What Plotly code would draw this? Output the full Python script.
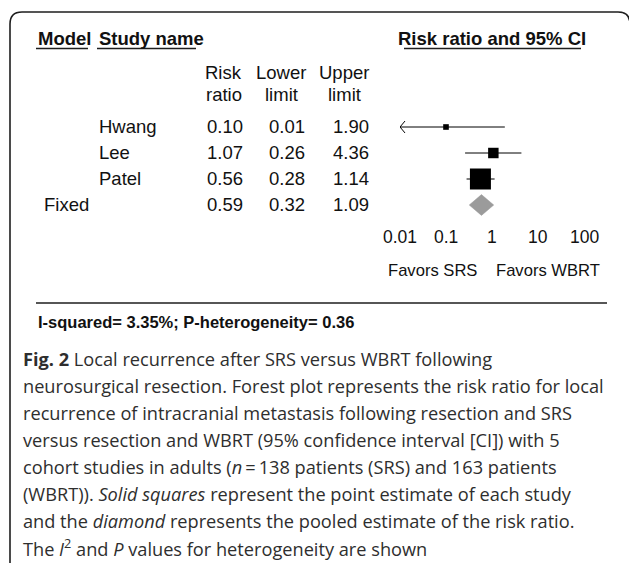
import numpy as np
import plotly.graph_objects as go

W, H = 629, 563

# ---------------- data ----------------
studies = ["Hwang", "Lee", "Patel"]
risk_ratio = [0.10, 1.07, 0.56]
lower_limit = [0.01, 0.26, 0.28]
upper_limit = [1.90, 4.36, 1.14]

pooled_label = "Fixed"
pooled_rr = 0.59
pooled_lower = 0.32
pooled_upper = 1.09

tick_values = [0.01, 0.1, 1, 10, 100]
tick_labels = ["0.01", "0.1", "1", "10", "100"]
favors_labels = ["Favors SRS", "Favors WBRT"]

i_squared = "3.35%"
p_heterogeneity = "0.36"

caption_lines = [
    "<b>Fig. 2</b> Local recurrence after SRS versus WBRT following",
    "neurosurgical resection. Forest plot represents the risk ratio for local",
    "recurrence of intracranial metastasis following resection and SRS",
    "versus resection and WBRT (95% confidence interval [CI]) with 5",
    "cohort studies in adults (<i>n</i>\u2009=\u2009138 patients (SRS) and 163 patients",
    "(WBRT)). <i>Solid squares</i> represent the point estimate of each study",
    "and the <i>diamond</i> represents the pooled estimate of the risk ratio.",
    "The <i>I</i><sup>2</sup> and <i>P</i> values for heterogeneity are shown",
]

# ---------------- helpers / styles ----------------
def px(x):
    return x / W


def py(y):
    return 1 - y / H


TXT = "#111111"
MARK = "#000000"
TABLE_FONT = dict(family="Liberation Sans, Arial, sans-serif", size=18.5, color=TXT)
HEAD_FONT = dict(family="Liberation Sans, Arial, sans-serif", size=18.5, color=TXT)
TICK_FONT = dict(family="Liberation Sans, Arial, sans-serif", size=17.5, color=TXT)
FAV_FONT = dict(family="Liberation Sans, Arial, sans-serif", size=16.6, color=TXT)
HET_FONT = dict(family="Liberation Sans, Arial, sans-serif", size=16.5, color=TXT)
CAP_FONT = dict(family="Open Sans, Noto Sans, sans-serif", size=18.2, color="#2e2e2e")

n_rows = len(studies) + 1
rows = list(range(len(studies)))
pooled_row = len(studies)

# inverse-variance weights -> square sizes (area proportional to weight)
se = [(np.log(u) - np.log(l)) / (2 * 1.96) for l, u in zip(lower_limit, upper_limit)]
weights = [1 / s ** 2 for s in se]
max_box = 21.0
box_sizes = [max_box * np.sqrt(w / max(weights)) for w in weights]

log_min, log_max = -2, 2

fig = go.Figure()

# CI lines
for r, lo, hi in zip(rows, lower_limit, upper_limit):
    fig.add_trace(go.Scatter(
        x=[max(lo, 10 ** log_min), min(hi, 10 ** log_max)], y=[r, r],
        mode="lines", line=dict(color=MARK, width=1), hoverinfo="skip",
        showlegend=False))
    if lo <= 10 ** log_min:
        tip = 10 ** log_min
        arm = tip * 10 ** (5 / 46)
        fig.add_trace(go.Scatter(
            x=[arm, tip, arm], y=[r - 0.23, r, r + 0.23],
            mode="lines", line=dict(color=MARK, width=1), hoverinfo="skip",
            showlegend=False))

# point estimates
fig.add_trace(go.Scatter(
    x=risk_ratio, y=rows, mode="markers", opacity=1,
    marker=dict(symbol="square", size=box_sizes, color=MARK, opacity=1,
                line=dict(width=0, color=MARK)),
    hoverinfo="skip", showlegend=False))

# pooled diamond
dh = 0.4
fig.add_trace(go.Scatter(
    x=[pooled_lower, pooled_rr, pooled_upper, pooled_rr, pooled_lower],
    y=[pooled_row, pooled_row - dh, pooled_row, pooled_row + dh, pooled_row],
    mode="lines", fill="toself", fillcolor="#9b9b9b",
    line=dict(color="#9b9b9b", width=0.5), hoverinfo="skip", showlegend=False))

ann = []

# headers
ann.append(dict(text="<b>Model</b>", x=px(36), y=py(39), xanchor="left", font=HEAD_FONT))
ann.append(dict(text="<b>Study name</b>", x=px(97), y=py(39), xanchor="left", font=HEAD_FONT))
ann.append(dict(text="<b>Risk ratio and 95% CI</b>", x=px(492), y=py(39), xanchor="center", font=HEAD_FONT))

col_heads = [("Risk", "ratio"), ("Lower", "limit"), ("Upper", "limit")]
col_centers = [224, 281, 344]
col_rights = [245, 307, 371]
for (a, b), cx in zip(col_heads, col_centers):
    ann.append(dict(text=a, x=px(cx), y=py(73), xanchor="center", font=TABLE_FONT))
    ann.append(dict(text=b, x=px(cx), y=py(95), xanchor="center", font=TABLE_FONT))

# study rows
for r, name, rr, lo, hi in zip(rows, studies, risk_ratio, lower_limit, upper_limit):
    ann.append(dict(text=name, x=px(97), y=r, yref="y", xanchor="left", font=TABLE_FONT))
    for v, xr in zip([rr, lo, hi], col_rights):
        ann.append(dict(text=f"{v:.2f}", x=px(xr), y=r, yref="y", xanchor="right", font=TABLE_FONT))

ann.append(dict(text=pooled_label, x=px(42), y=pooled_row, yref="y", xanchor="left", font=TABLE_FONT))
for v, xr in zip([pooled_rr, pooled_lower, pooled_upper], col_rights):
    ann.append(dict(text=f"{v:.2f}", x=px(xr), y=pooled_row, yref="y", xanchor="right", font=TABLE_FONT))

# tick labels via the x axis
for tv, tl in zip(tick_values, tick_labels):
    ann.append(dict(text=tl, x=np.log10(tv), xref="x", y=py(237), xanchor="center", font=TICK_FONT))

ann.append(dict(text=favors_labels[0], x=px(432), y=py(270), xanchor="center", font=FAV_FONT))
ann.append(dict(text=favors_labels[1], x=px(548), y=py(270), xanchor="center", font=FAV_FONT))

ann.append(dict(text=f"<b>I-squared= {i_squared}; P-heterogeneity= {p_heterogeneity}</b>",
                x=px(36), y=py(322), xanchor="left", font=HET_FONT))

for i, line in enumerate(caption_lines):
    ann.append(dict(text=line, x=px(21), y=py(358.5 + 27.0 * i), xanchor="left", font=CAP_FONT))

for a in ann:
    a.setdefault("xref", "paper")
    a.setdefault("yref", "paper")
    a.setdefault("yanchor", "middle")
    a["showarrow"] = False

LINE = "#1e1e1e"
shapes = []
# rounded frame
r_c = 12
path = (f"M {px(10)},{py(600)} L {px(10)},{py(12 + r_c)} "
        f"Q {px(10)},{py(12)} {px(10 + r_c)},{py(12)} "
        f"L {px(630 - r_c)},{py(12)} "
        f"Q {px(630)},{py(12)} {px(630)},{py(12 + r_c)} "
        f"L {px(630)},{py(600)}")
shapes.append(dict(type="path", path=path, xref="paper", yref="paper",
                   line=dict(color=LINE, width=1.6)))
# header underlines
for x0, x1 in [(36, 88), (97, 196), (404, 581)]:
    shapes.append(dict(type="line", xref="paper", yref="paper",
                       x0=px(x0), x1=px(x1), y0=py(48.5), y1=py(48.5),
                       line=dict(color=LINE, width=1.3)))
# separator line
shapes.append(dict(type="line", xref="paper", yref="paper",
                   x0=px(36), x1=px(607), y0=py(303), y1=py(303),
                   line=dict(color=LINE, width=1.3)))

fig.update_layout(
    width=W, height=H,
    margin=dict(l=0, r=0, t=0, b=0),
    paper_bgcolor="white", plot_bgcolor="rgba(0,0,0,0)",
    xaxis=dict(type="log", range=[log_min, log_max], domain=[px(400), px(584)],
               showgrid=False, zeroline=False, showline=False, ticks="",
               showticklabels=False, fixedrange=True),
    yaxis=dict(range=[n_rows - 0.5, -0.5], domain=[py(218), py(114)],
               showgrid=False, zeroline=False, showline=False, ticks="",
               showticklabels=False, fixedrange=True),
    annotations=ann, shapes=shapes, showlegend=False,
)

fig.write_html(
    "out.html",
    config={"displayModeBar": False},
    post_script="document.body.style.margin='0';document.body.style.padding='0';document.body.style.overflow='hidden';",
)
